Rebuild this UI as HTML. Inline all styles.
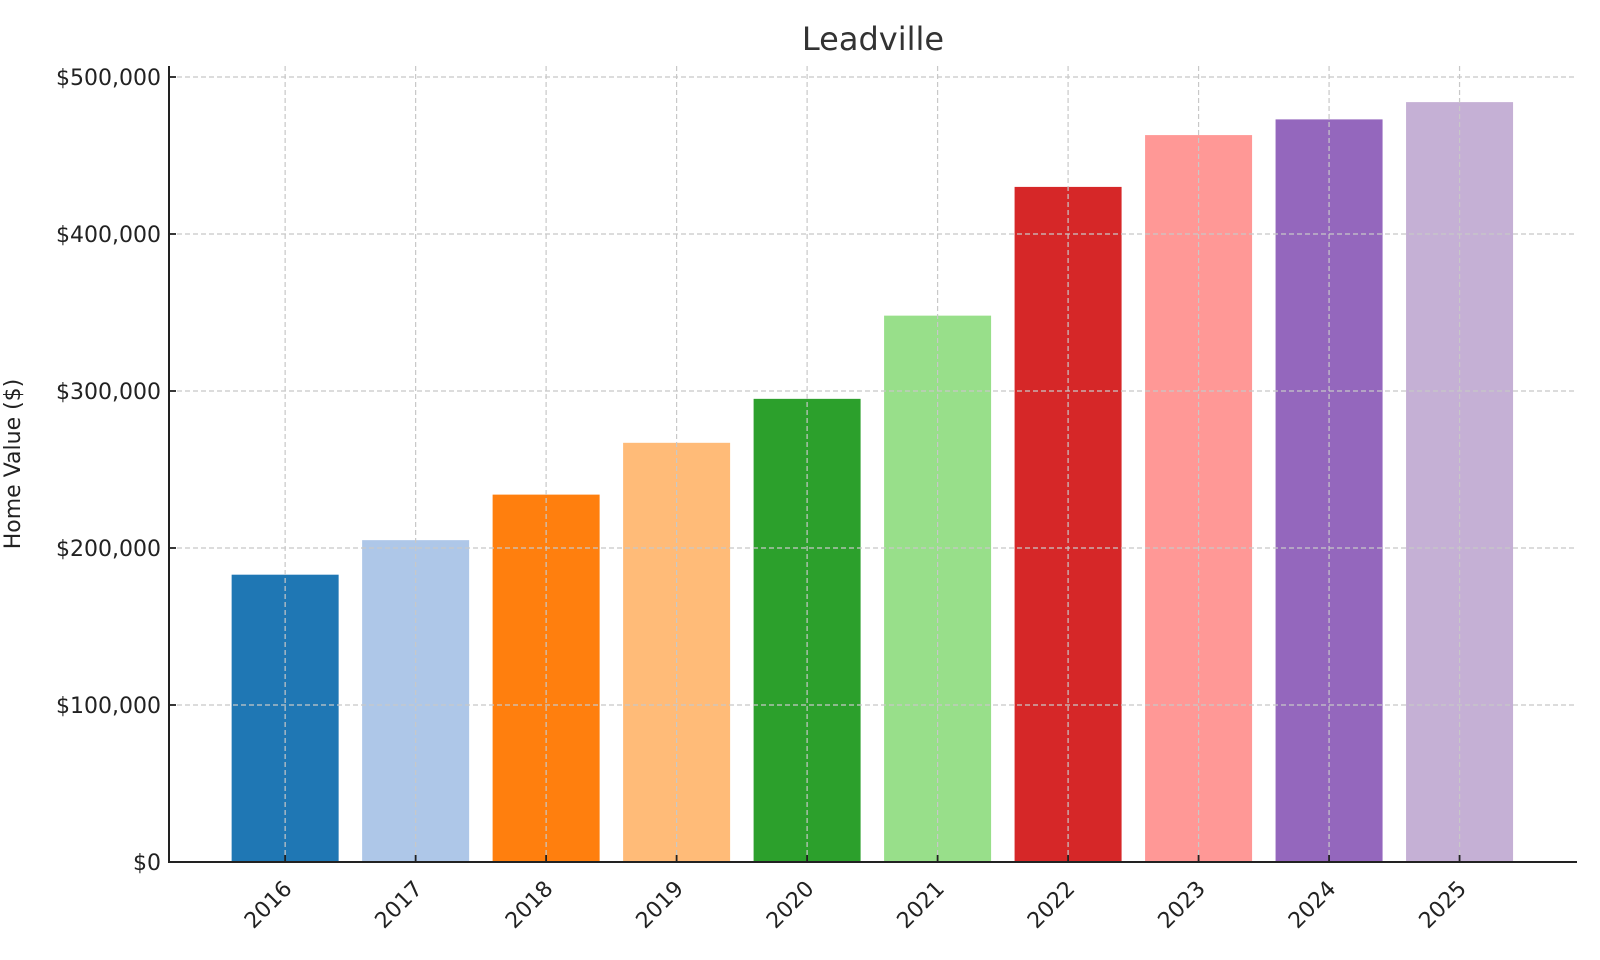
<!DOCTYPE html>
<html><head><meta charset="utf-8"><style>
html,body{margin:0;padding:0;background:#fff;}
svg{display:block;font-family:"DejaVu Sans","Liberation Sans",sans-serif;}
</style></head><body>
<svg id="chart" width="1600" height="960" viewBox="0 0 1600 960" xmlns="http://www.w3.org/2000/svg">
<text x="873" y="50" text-anchor="middle" font-size="32" fill="#333">Leadville</text>
<text transform="translate(20,464) rotate(-90)" text-anchor="middle" font-size="22" fill="#222">Home Value ($)</text>
<g id="grid"></g><g id="bars"></g><g id="axes"></g>
</svg>
<script>
const categories=["2016","2017","2018","2019","2020","2021","2022","2023","2024","2025"];
const values=[183000,205000,234000,267000,295000,348000,430000,463000,473000,484000];
const colors=["#1f77b4","#aec7e8","#ff7f0e","#ffbb78","#2ca02c","#98df8a","#d62728","#ff9896","#9467bd","#c5b0d5"];
const yTicks=[0,100000,200000,300000,400000,500000];
const yTickLabels=["$0","$100,000","$200,000","$300,000","$400,000","$500,000"];
const NS="http://www.w3.org/2000/svg";
const L=169,R=1577,B=862,T=66;
const xMin=-0.89,xMax=categories.length-1+0.9;
function x(i){return L+(i-xMin)/(xMax-xMin)*(R-L);}
function y(v){return B-v/100000*157;}
const step=x(1)-x(0),bw=step*0.82;
function mk(tag,attrs,parent){const e=document.createElementNS(NS,tag);for(const k in attrs)e.setAttribute(k,attrs[k]);parent.appendChild(e);return e;}
const gBars=document.getElementById('bars'),gGrid=document.getElementById('grid'),gAx=document.getElementById('axes');
categories.forEach((c,i)=>{
  const r=mk('rect',{x:x(i)-bw/2,y:y(values[i]),width:bw,height:B-y(values[i]),fill:colors[i]},gBars);
  
  
});
// gridlines over bars
categories.forEach((c,i)=>{
  const l=mk('line',{x1:x(i),x2:x(i),y1:T,y2:B,stroke:'#c8c8c8','stroke-width':1.2,'stroke-dasharray':'5,3'},gAx);
  
  
  const t=mk('line',{x1:x(i),x2:x(i),y1:B,y2:B-7,stroke:'#222','stroke-width':1.8},gAx);
  
  
  const lb=mk('text',{transform:`translate(${x(i)+8},${B+28}) rotate(-45)`,'text-anchor':'end','font-size':22,fill:'#222'},gAx);
  lb.textContent=c;
  
  
});
yTicks.forEach((v,j)=>{
  if(v>0){const l=mk('line',{x1:L,x2:R,y1:y(v),y2:y(v),stroke:'#c8c8c8','stroke-width':1.2,'stroke-dasharray':'5,3'},gAx);
  
  }
  const t=mk('line',{x1:L,x2:L+7,y1:y(v),y2:y(v),stroke:'#222','stroke-width':1.8},gAx);
  
  
  const lb=mk('text',{x:L-8,y:y(v)+8,'text-anchor':'end','font-size':22,fill:'#222'},gAx);
  lb.textContent=yTickLabels[j];
  
  
});
const ya=mk('line',{x1:L,x2:L,y1:T,y2:B+1,stroke:'#222','stroke-width':2},gAx);


const xa=mk('line',{x1:L-1,x2:R,y1:B,y2:B,stroke:'#222','stroke-width':2},gAx);


</script>
</body></html>
